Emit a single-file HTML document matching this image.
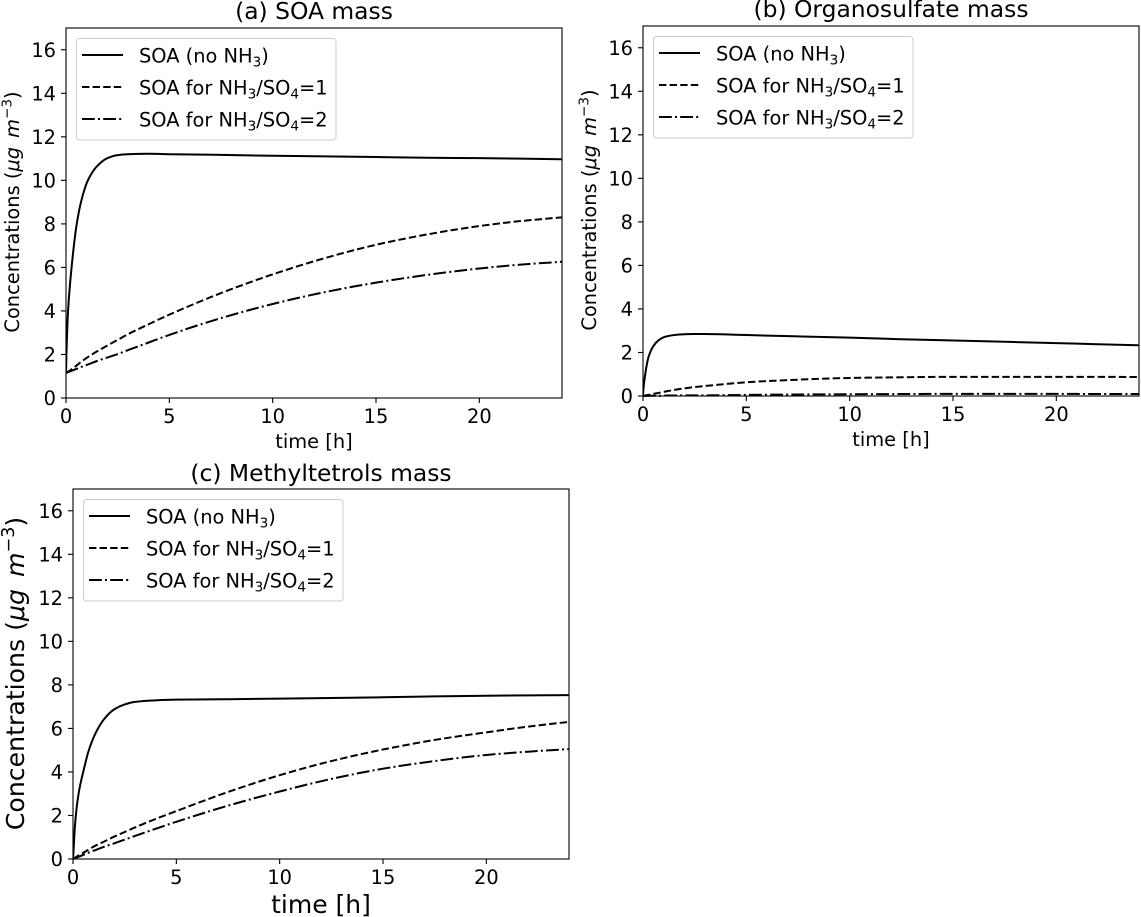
<!DOCTYPE html>
<html lang="en">
<head>
<meta charset="utf-8">
<title>SOA, organosulfate and methyltetrol mass</title>
<style>
html,body{margin:0;padding:0;background:#fff;}
svg{display:block;}
text{font-family:"DejaVu Sans","Liberation Sans",sans-serif;fill:#000;}
.tick{font-size:19.4px;}
.title{font-size:23.4px;text-anchor:middle;}
.leg{font-size:19.4px;}
.xl{font-size:19.4px;text-anchor:middle;}
.yl{font-size:19.4px;text-anchor:middle;}
.xlc{font-size:25px;text-anchor:middle;}
.ylc{font-size:25.2px;text-anchor:middle;}
.m{font-style:italic;}
</style>
</head>
<body>
<svg id="fig" xmlns="http://www.w3.org/2000/svg" width="1141" height="917" viewBox="0 0 1141 917">
  <rect width="1141" height="917" fill="#fff"/>

  <g id="panel-a">
    <g class="plot"></g>
    <text class="title" x="314" y="19">(a) SOA mass</text>
    <text class="xl" x="314" y="448">time [h]</text>
    <text class="yl" transform="translate(19 212) rotate(-90)">Concentrations (<tspan class="m">μg</tspan><tspan class="m" dx="9">m</tspan><tspan dy="-7.5" font-size="13.6">−3</tspan><tspan dy="7.5">)</tspan></text>
    <g transform="translate(66 28)">
      <rect x="10.5" y="10.5" width="259.5" height="101.5" rx="3" fill="#fff" fill-opacity="0.8" stroke="#ccc" stroke-width="1"/>
      <line x1="16" x2="57" y1="27" y2="27" stroke="#000" stroke-width="2"/>
      <text class="leg" x="73" y="34.4">SOA (no NH<tspan dy="4" font-size="13.6">3</tspan><tspan dy="-4">)</tspan></text>
      <line x1="16" x2="57" y1="59" y2="59" stroke="#000" stroke-width="2" stroke-dasharray="7.4 3.2"/>
      <text class="leg" x="73" y="66.4">SOA for NH<tspan dy="4" font-size="13.6">3</tspan><tspan dy="-4">/SO</tspan><tspan dy="4" font-size="13.6">4</tspan><tspan dy="-4">=1</tspan></text>
      <line x1="16" x2="57" y1="91" y2="91" stroke="#000" stroke-width="2" stroke-dasharray="12.8 3.2 2 3.2"/>
      <text class="leg" x="73" y="98.4">SOA for NH<tspan dy="4" font-size="13.6">3</tspan><tspan dy="-4">/SO</tspan><tspan dy="4" font-size="13.6">4</tspan><tspan dy="-4">=2</tspan></text>
    </g>
  </g>

  <g id="panel-b">
    <g class="plot"></g>
    <text class="title" x="891" y="17">(b) Organosulfate mass</text>
    <text class="xl" x="891" y="446">time [h]</text>
    <text class="yl" transform="translate(596 210) rotate(-90)">Concentrations (<tspan class="m">μg</tspan><tspan class="m" dx="9">m</tspan><tspan dy="-7.5" font-size="13.6">−3</tspan><tspan dy="7.5">)</tspan></text>
    <g transform="translate(643 26)">
      <rect x="10.5" y="10.5" width="259.5" height="101.5" rx="3" fill="#fff" fill-opacity="0.8" stroke="#ccc" stroke-width="1"/>
      <line x1="16" x2="57" y1="27" y2="27" stroke="#000" stroke-width="2"/>
      <text class="leg" x="73" y="34.4">SOA (no NH<tspan dy="4" font-size="13.6">3</tspan><tspan dy="-4">)</tspan></text>
      <line x1="16" x2="57" y1="59" y2="59" stroke="#000" stroke-width="2" stroke-dasharray="7.4 3.2"/>
      <text class="leg" x="73" y="66.4">SOA for NH<tspan dy="4" font-size="13.6">3</tspan><tspan dy="-4">/SO</tspan><tspan dy="4" font-size="13.6">4</tspan><tspan dy="-4">=1</tspan></text>
      <line x1="16" x2="57" y1="91" y2="91" stroke="#000" stroke-width="2" stroke-dasharray="12.8 3.2 2 3.2"/>
      <text class="leg" x="73" y="98.4">SOA for NH<tspan dy="4" font-size="13.6">3</tspan><tspan dy="-4">/SO</tspan><tspan dy="4" font-size="13.6">4</tspan><tspan dy="-4">=2</tspan></text>
    </g>
  </g>

  <g id="panel-c">
    <g class="plot"></g>
    <text class="title" x="321" y="481">(c) Methyltetrols mass</text>
    <text class="xlc" x="321" y="913">time [h]</text>
    <text class="ylc" transform="translate(24 673.5) rotate(-90)">Concentrations (<tspan class="m">μg</tspan><tspan class="m" dx="12">m</tspan><tspan dy="-10" font-size="17.5">−3</tspan><tspan dy="10">)</tspan></text>
    <g transform="translate(73 489)">
      <rect x="10.5" y="10.5" width="259.5" height="101.5" rx="3" fill="#fff" fill-opacity="0.8" stroke="#ccc" stroke-width="1"/>
      <line x1="16" x2="57" y1="27" y2="27" stroke="#000" stroke-width="2"/>
      <text class="leg" x="73" y="34.4">SOA (no NH<tspan dy="4" font-size="13.6">3</tspan><tspan dy="-4">)</tspan></text>
      <line x1="16" x2="57" y1="59" y2="59" stroke="#000" stroke-width="2" stroke-dasharray="7.4 3.2"/>
      <text class="leg" x="73" y="66.4">SOA for NH<tspan dy="4" font-size="13.6">3</tspan><tspan dy="-4">/SO</tspan><tspan dy="4" font-size="13.6">4</tspan><tspan dy="-4">=1</tspan></text>
      <line x1="16" x2="57" y1="91" y2="91" stroke="#000" stroke-width="2" stroke-dasharray="12.8 3.2 2 3.2"/>
      <text class="leg" x="73" y="98.4">SOA for NH<tspan dy="4" font-size="13.6">3</tspan><tspan dy="-4">/SO</tspan><tspan dy="4" font-size="13.6">4</tspan><tspan dy="-4">=2</tspan></text>
    </g>
  </g>
</svg>

<script>
var xTickLabels = [0, 5, 10, 15, 20];
var yTickLabels = [0, 2, 4, 6, 8, 10, 12, 14, 16];
var xLimit = 24;
var yLimit = 17;

var timeHours = [0, 0.02, 0.1, 0.27, 0.52, 0.75, 1.06, 1.5, 2, 2.5, 3, 4, 5, 7.5, 10, 12.5, 15, 17.5, 20, 22, 24];

var soaNoNh3 = [1.15, 2, 4, 6, 8, 9.1, 10, 10.65, 11.02, 11.16, 11.2, 11.22, 11.2, 11.17, 11.13, 11.1, 11.07, 11.04, 11.02, 11, 10.97];
var soaRatio1 = [1.15, 1.16, 1.21, 1.32, 1.5, 1.67, 1.88, 2.14, 2.41, 2.67, 2.93, 3.39, 3.83, 4.82, 5.68, 6.42, 7.04, 7.52, 7.9, 8.13, 8.3];
var soaRatio2 = [1.15, 1.16, 1.19, 1.25, 1.34, 1.43, 1.54, 1.7, 1.86, 2.02, 2.2, 2.55, 2.9, 3.67, 4.32, 4.86, 5.3, 5.66, 5.95, 6.13, 6.26];

var orgNoNh3 = [0, 0.3, 0.95, 1.8, 2.32, 2.56, 2.72, 2.8, 2.84, 2.85, 2.85, 2.83, 2.8, 2.74, 2.68, 2.61, 2.55, 2.49, 2.43, 2.38, 2.33];
var orgRatio1 = [0, 0, 0.02, 0.05, 0.1, 0.14, 0.2, 0.28, 0.35, 0.41, 0.46, 0.55, 0.63, 0.75, 0.83, 0.86, 0.88, 0.88, 0.88, 0.88, 0.87];
var orgRatio2 = [0, 0, 0, 0.01, 0.01, 0.01, 0.02, 0.02, 0.03, 0.03, 0.03, 0.04, 0.05, 0.07, 0.08, 0.09, 0.1, 0.1, 0.1, 0.09, 0.09];

var metNoNh3 = [0, 0.3, 1.6, 3, 4.1, 4.95, 5.72, 6.42, 6.88, 7.1, 7.22, 7.29, 7.32, 7.34, 7.37, 7.4, 7.43, 7.47, 7.5, 7.52, 7.53];
var metRatio1 = [0, 0.01, 0.06, 0.16, 0.3, 0.43, 0.6, 0.8, 1.03, 1.24, 1.45, 1.84, 2.2, 3.08, 3.85, 4.5, 5.03, 5.47, 5.82, 6.08, 6.3];
var metRatio2 = [0, 0.01, 0.04, 0.1, 0.2, 0.29, 0.4, 0.56, 0.72, 0.89, 1.06, 1.39, 1.71, 2.45, 3.1, 3.68, 4.15, 4.5, 4.78, 4.93, 5.05];

var NS = 'http://www.w3.org/2000/svg';

function make(tag, attrs, parent) {
  var el = document.createElementNS(NS, tag);
  Object.keys(attrs).forEach(function (k) { el.setAttribute(k, attrs[k]); });
  parent.appendChild(el);
  return el;
}

// Monotone cubic path through a list of [x, y] pixel points.
function curvePath(pts) {
  var n = pts.length, m = [], d = [], i;
  for (i = 0; i < n - 1; i++) d[i] = (pts[i + 1][1] - pts[i][1]) / (pts[i + 1][0] - pts[i][0]);
  m[0] = d[0];
  m[n - 1] = d[n - 2];
  for (i = 1; i < n - 1; i++) {
    if (d[i - 1] * d[i] <= 0) { m[i] = 0; continue; }
    var w1 = 2 * (pts[i + 1][0] - pts[i][0]) + (pts[i][0] - pts[i - 1][0]);
    var w2 = (pts[i + 1][0] - pts[i][0]) + 2 * (pts[i][0] - pts[i - 1][0]);
    m[i] = (w1 + w2) / (w1 / d[i - 1] + w2 / d[i]);
  }
  var s = 'M' + pts[0][0].toFixed(2) + ' ' + pts[0][1].toFixed(2);
  for (i = 0; i < n - 1; i++) {
    var h = (pts[i + 1][0] - pts[i][0]) / 3;
    s += 'C' + (pts[i][0] + h).toFixed(2) + ' ' + (pts[i][1] + m[i] * h).toFixed(2) +
         ' ' + (pts[i + 1][0] - h).toFixed(2) + ' ' + (pts[i + 1][1] - m[i + 1] * h).toFixed(2) +
         ' ' + pts[i + 1][0].toFixed(2) + ' ' + pts[i + 1][1].toFixed(2);
  }
  return s;
}

function drawPanel(panelId, left, top, series) {
  var width = 496, height = 370;
  var g = document.querySelector('#' + panelId + ' .plot');

  function xScale(t) { return left + t / xLimit * width; }
  function yScale(v) { return top + height - v / yLimit * height; }

  var clipId = panelId + '-clip';
  var defs = make('defs', {}, g);
  var clip = make('clipPath', { id: clipId }, defs);
  make('rect', { x: left, y: top - 1, width: width + 1, height: height + 2 }, clip);

  series.forEach(function (s) {
    var pts = timeHours.map(function (t, i) { return [xScale(t), yScale(s.values[i])]; });
    var line = make('path', {
      d: curvePath(pts), fill: 'none', stroke: '#000', 'stroke-width': 2,
      'stroke-dasharray': s.dash, 'clip-path': 'url(#' + clipId + ')'
    }, g);
    
    
  });

  xTickLabels.forEach(function (t) {
    var x = xScale(t);
    var mark = make('line', { x1: x, x2: x, y1: top + height, y2: top + height + 5, stroke: '#000', 'stroke-width': 1.1 }, g);
    
    
    var label = make('text', { x: x, y: top + height + 25, 'text-anchor': 'middle', 'class': 'tick' }, g);
    label.textContent = t;
    
    
  });

  yTickLabels.forEach(function (v) {
    var y = yScale(v);
    var mark = make('line', { x1: left - 5, x2: left, y1: y, y2: y, stroke: '#000', 'stroke-width': 1.1 }, g);
    
    
    var label = make('text', { x: left - 10, y: y + 7, 'text-anchor': 'end', 'class': 'tick' }, g);
    label.textContent = v;
    
    
  });

  var frame = make('rect', { x: left, y: top, width: width, height: height, fill: 'none', stroke: '#000', 'stroke-width': 1.1 }, g);
  
  
}

drawPanel('panel-a', 66, 28, [
  { name: 'line-soa-no-nh3', values: soaNoNh3, dash: 'none' },
  { name: 'line-soa-ratio-1', values: soaRatio1, dash: '7.4 3.2' },
  { name: 'line-soa-ratio-2', values: soaRatio2, dash: '12.8 3.2 2 3.2' }
]);
drawPanel('panel-b', 643, 26, [
  { name: 'line-organosulfate-no-nh3', values: orgNoNh3, dash: 'none' },
  { name: 'line-organosulfate-ratio-1', values: orgRatio1, dash: '7.4 3.2' },
  { name: 'line-organosulfate-ratio-2', values: orgRatio2, dash: '12.8 3.2 2 3.2' }
]);
drawPanel('panel-c', 73, 489, [
  { name: 'line-methyltetrols-no-nh3', values: metNoNh3, dash: 'none' },
  { name: 'line-methyltetrols-ratio-1', values: metRatio1, dash: '7.4 3.2' },
  { name: 'line-methyltetrols-ratio-2', values: metRatio2, dash: '12.8 3.2 2 3.2' }
]);
</script>
</body>
</html>
